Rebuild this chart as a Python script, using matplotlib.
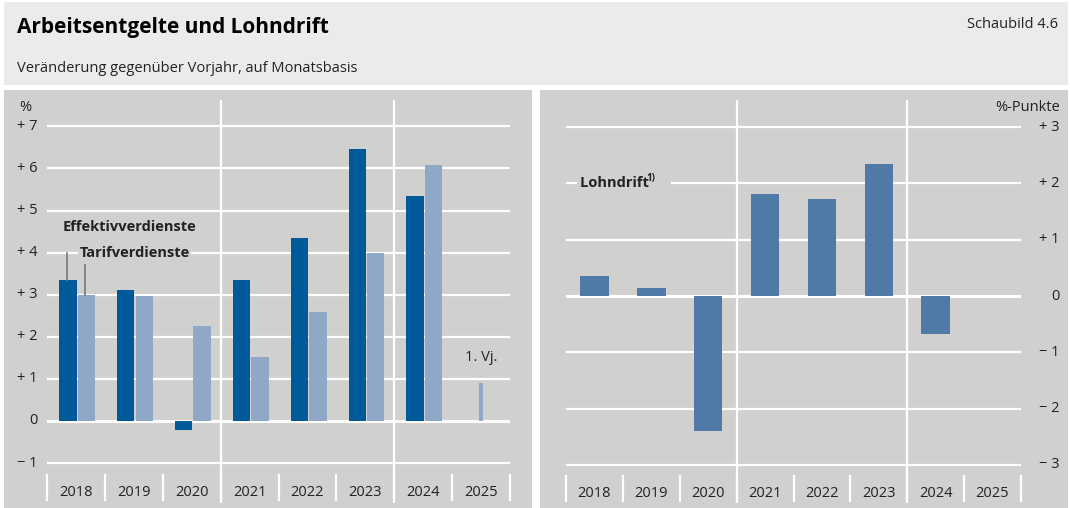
import matplotlib.pyplot as plt
from matplotlib.patches import Rectangle

plt.rcParams['font.family'] = ['Open Sans', 'DejaVu Sans']

years = ["2018", "2019", "2020", "2021", "2022", "2023", "2024", "2025"]
effektiv = [3.35, 3.12, -0.22, 3.35, 4.35, 6.45, 5.35, None]
tarif = [3.0, 2.97, 2.25, 1.52, 2.6, 4.0, 6.08, 0.9]
lohndrift = [0.36, 0.14, -2.4, 1.82, 1.72, 2.35, -0.68, None]
left_ticks = [-1, 0, 1, 2, 3, 4, 5, 6, 7]
right_ticks = [-3, -2, -1, 0, 1, 2, 3]

W, H = 1070, 508
PANEL = "#d0d0ce"
HEAD = "#ebebeb"
DARK = "#005a9a"
LIGHT = "#8fa8c8"
DRIFT = "#4f7aa8"
TXT = "#222222"

fig = plt.figure(figsize=(W / 100, H / 100), dpi=100)
fig.patch.set_facecolor("white")


def px_rect(x0, y0, x1, y1):
    return [x0 / W, 1 - y1 / H, (x1 - x0) / W, (y1 - y0) / H]


# header and panel backgrounds
for r, c in [((4, 2, 1068, 85), HEAD), ((4, 90, 532, 508), PANEL), ((540, 90, 1068, 508), PANEL)]:
    fig.patches.append(Rectangle((r[0] / W, 1 - r[3] / H), (r[2] - r[0]) / W, (r[3] - r[1]) / H,
                                 transform=fig.transFigure, facecolor=c, edgecolor="none", zorder=-5))

fig.text(17 / W, 1 - 27 / H, "Arbeitsentgelte und Lohndrift", fontsize=15, fontweight="bold",
         color="black", va="center")
fig.text(1058 / W, 1 - 25 / H, "Schaubild 4.6", fontsize=10.5, color=TXT, va="center", ha="right")
fig.text(17 / W, 1 - 68 / H, "Veränderung gegenüber Vorjahr, auf Monatsbasis", fontsize=10.5,
         color=TXT, va="center")


def fmt(v):
    if v > 0:
        return f"+ {v}"
    if v < 0:
        return f"− {abs(v)}"
    return "0"


def setup(ax, zero_px, unit_px, top_px=100, bottom_px=503):
    ax.set_facecolor(PANEL)
    ax.set_xlim(0, 8)
    ax.set_ylim((zero_px - bottom_px) / unit_px, (zero_px - top_px) / unit_px)
    for s in ax.spines.values():
        s.set_visible(False)
    ax.set_xticks([])
    ax.set_yticks([])


# ---------------- left panel
x0, x1 = 47, 510
axl = fig.add_axes(px_rect(x0, 100, x1, 503))
setup(axl, 421, 42.1)
for t in left_ticks:
    axl.axhline(t, color="white", lw=2.2 if t == 0 else 1.6, zorder=1)
    axl.text(-0.16, t, fmt(t), ha="right", va="center", fontsize=10.5, color=TXT, clip_on=False)
axl.text(-0.27, 7.45, "%", ha="right", va="center", fontsize=10.5, color=TXT, clip_on=False)
for xv in [3, 6]:
    axl.axvline(xv, color="white", lw=1.6, zorder=1)
for i in range(9):
    axl.plot([i, i], [-1.28, -1.88], color="white", lw=1.6, zorder=1, clip_on=False)
for i, y in enumerate(years):
    axl.text(i + 0.5, -1.7, y, ha="center", va="center", fontsize=10.5, color=TXT)
    if effektiv[i] is not None:
        axl.bar(i + 0.36, effektiv[i], width=0.3, color=DARK, zorder=2)
    w = 0.3 if effektiv[i] is not None else 0.06
    axl.bar(i + 0.68 if effektiv[i] is not None else i + 0.5, tarif[i], width=w, color=LIGHT, zorder=2)
axl.text(7.5, 1.5, "1. Vj.", ha="center", va="center", fontsize=10.5, color=TXT)
axl.plot([0.35, 0.35], [3.35, 4.0], color="#777777", lw=1.2, zorder=3)
axl.plot([0.65, 0.65], [3.0, 3.7], color="#777777", lw=1.2, zorder=3)
axl.text(0.27, 4.6, "Effektivverdienste", fontsize=10.5, fontweight="bold", color=TXT, va="center",
         bbox=dict(facecolor=PANEL, edgecolor="none", pad=1), zorder=4)
axl.text(0.56, 4.0, "Tarifverdienste", fontsize=10.5, fontweight="bold", color=TXT, va="center",
         bbox=dict(facecolor=PANEL, edgecolor="none", pad=1), zorder=4)

# ---------------- right panel
axr = fig.add_axes(px_rect(566, 100, 1021, 503))
setup(axr, 296, 56.3)
for t in right_ticks:
    axr.axhline(t, color="white", lw=2.2 if t == 0 else 1.6, zorder=1)
    axr.text(8.68, t, fmt(t), ha="right", va="center", fontsize=10.5, color=TXT, clip_on=False)
axr.text(8.68, 3.35, "%-Punkte", ha="right", va="center", fontsize=10.5, color=TXT, clip_on=False)
for xv in [3, 6]:
    axr.axvline(xv, color="white", lw=1.6, zorder=1)
for i in range(9):
    axr.plot([i, i], [-3.2, -3.65], color="white", lw=1.6, zorder=1, clip_on=False)
for i, y in enumerate(years):
    axr.text(i + 0.5, -3.5, y, ha="center", va="center", fontsize=10.5, color=TXT)
    if lohndrift[i] is not None:
        axr.bar(i + 0.5, lohndrift[i], width=0.5, color=DRIFT, zorder=2)
axr.text(0.25, 2.0, "Lohndrift     ", fontsize=10.5, fontweight="bold", color=TXT, va="center",
         bbox=dict(facecolor=PANEL, edgecolor="none", pad=2), zorder=4)
axr.text(1.42, 2.08, "1)", fontsize=7, fontweight="bold", color=TXT, va="center", zorder=5)

fig.savefig("out.png", dpi=100)
